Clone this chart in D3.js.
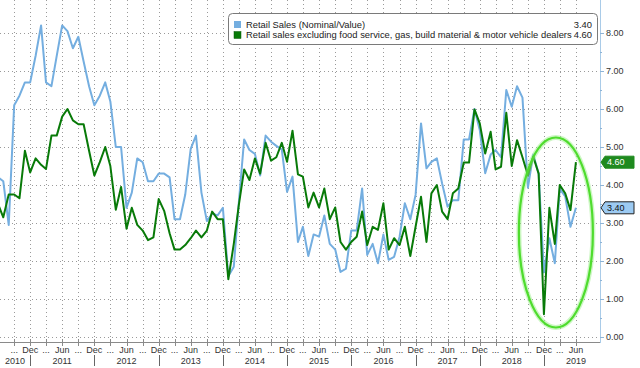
<!DOCTYPE html>
<html>
<head>
<meta charset="utf-8">
<script src="https://cdn.jsdelivr.net/npm/d3@7"></script>
<style>
body { margin: 0; background: #fff; }
svg { display: block; font-family: "Liberation Sans", Arial, sans-serif; }
</style>
</head>
<body>
<script>
// monthly YoY %, Jun 2010 .. Jun 2019
var retailSales = [4.2,4.1,2.95,6.1,6.35,6.7,6.7,7.4,8.2,6.7,
 6.6,7.4,8.2,8.05,7.6,7.9,7.25,6.6,6.1,6.35,
 6.7,6.2,5.0,5.0,3.4,3.8,4.7,4.6,4.1,4.1,
 4.3,4.3,4.2,3.1,3.1,3.75,4.95,5.3,3.8,3.05,
 3.25,3.2,3.4,1.6,1.85,3.5,5.2,4.92,4.82,4.25,
 5.3,5.14,5.03,4.94,3.82,4.22,2.5,2.9,2.13,2.7,
 2.64,3.2,2.45,2.3,1.71,1.8,2.8,2.8,3.91,2.16,
 2.45,1.94,2.7,2.03,2.11,2.64,3.52,3.1,3.74,5.62,
 4.44,4.61,4.7,4.04,3.43,3.6,3.6,5.2,5.2,6.0,
 5.45,4.31,4.8,4.92,4.73,6.5,6.06,6.6,6.3,3.93,
 4.8,4.3,1.7,2.6,1.94,3.9,3.7,2.9,3.4];

var retailControl = [3.5,3.15,3.75,3.75,3.65,4.9,4.33,4.7,4.53,4.42,
 5.3,5.3,5.8,6.0,5.7,5.6,5.6,4.9,4.25,4.6,
 5.0,4.5,3.35,3.95,2.85,3.4,2.95,2.8,2.55,2.62,
 3.63,3.32,2.73,2.3,2.3,2.42,2.6,2.8,2.62,2.8,
 3.3,3.1,3.1,1.52,2.45,3.45,4.41,4.13,4.7,4.3,
 5.11,4.64,4.73,5.11,4.61,5.43,4.28,4.22,3.41,3.8,
 3.41,3.91,3.1,3.41,2.5,2.3,2.5,2.64,3.3,2.42,
 2.9,2.82,3.52,2.3,2.6,2.42,2.9,2.13,2.9,3.69,
 2.5,3.78,4.0,3.3,3.1,3.78,3.91,4.59,4.59,5.99,
 5.62,4.83,5.4,4.41,4.48,5.9,4.5,5.18,4.73,4.25,
 4.75,4.3,0.6,3.4,2.45,4.0,3.78,3.34,4.6];

var seriesNames = ["Retail Sales (Nominal/Value)",
  "Retail sales excluding food service, gas, build material & motor vehicle dealers"];
var seriesColors = ["#74aee0", "#087a08"];
var yTicks = [0, 1, 2, 3, 4, 5, 6, 7, 8];
var years = [2010, 2011, 2012, 2013, 2014, 2015, 2016, 2017, 2018, 2019];
var monthNames = {5: "Jun", 11: "Dec"};

var width = 640, height = 368;
var plotRight = 600, axisY = 342;

var svg = d3.select("body").append("svg")
  .attr("width", width)
  .attr("height", height);

var months = d3.utcMonth.range(new Date(Date.UTC(2010, 5, 1)), new Date(Date.UTC(2019, 6, 2)));

var x = d3.scaleUtc().domain([months[0], months[months.length - 1]]).range([-2, 581.2]);
var y = d3.scaleLinear().domain([0, 8]).range([337, 33]);

svg.append("clipPath").attr("id", "plot")
  .append("rect").attr("x", 0).attr("y", 0).attr("width", plotRight).attr("height", axisY);

// quarter ticks (Mar, Jun, Sep, Dec)
var quarterTicks = months.filter(d => d.getUTCMonth() % 3 == 2 && d >= new Date(Date.UTC(2010, 8, 1)));

var grid = svg.append("g").attr("stroke", "#9a9a9a").attr("stroke-dasharray", "1,3").attr("stroke-width", 1);
grid.selectAll("line.v").data(quarterTicks).enter().append("line")
  .attr("x1", d => Math.round(x(d)) + 0.5).attr("x2", d => Math.round(x(d)) + 0.5)
  .attr("y1", 0).attr("y2", 338);
grid.selectAll("line.h").data(yTicks).enter().append("line")
  .attr("x1", 0).attr("x2", plotRight)
  .attr("y1", d => Math.round(y(d)) + 0.5).attr("y2", d => Math.round(y(d)) + 0.5);

// lines
var line = d3.line().x((d, i) => x(months[i])).y(d => y(d));
var lines = svg.append("g").attr("clip-path", "url(#plot)");
[retailSales, retailControl].forEach(function(s, i) {
  lines.append("path")
    .attr("d", line(s))
    .attr("fill", "none")
    .attr("stroke", seriesColors[i])
    .attr("stroke-width", 2)
    .attr("stroke-linejoin", "round");
});

// green highlight ellipse
var ex = x(new Date(Date.UTC(2019, 1, 7))), ey = y(2.75);
svg.append("ellipse").attr("cx", ex).attr("cy", ey).attr("rx", 37).attr("ry", y(0.25) - y(2.75))
  .attr("fill", "none").attr("stroke", "#9cf08a").attr("stroke-width", 5).attr("opacity", 0.5);
svg.append("ellipse").attr("cx", ex).attr("cy", ey).attr("rx", 37).attr("ry", y(0.25) - y(2.75))
  .attr("fill", "none").attr("stroke", "#4fdc2e").attr("stroke-width", 2.2);

// x axis
svg.append("line").attr("x1", 0).attr("x2", plotRight).attr("y1", axisY + 0.5).attr("y2", axisY + 0.5)
  .attr("stroke", "#8a8a8a");
svg.selectAll("line.xt").data(quarterTicks).enter().append("line")
  .attr("x1", d => Math.round(x(d)) + 0.5).attr("x2", d => Math.round(x(d)) + 0.5)
  .attr("y1", axisY - 3).attr("y2", axisY + 4)
  .attr("stroke", "#8a8a8a");
svg.selectAll("text.mon").data(quarterTicks).enter().append("text")
  .attr("x", d => x(d)).attr("y", 353)
  .attr("text-anchor", "middle")
  .attr("font-size", 9).attr("fill", "#333")
  .text(d => monthNames[d.getUTCMonth()] || "...");

var decs = quarterTicks.filter(d => d.getUTCMonth() == 11);
svg.selectAll("line.sep").data(decs).enter().append("line")
  .attr("x1", d => Math.round(x(d)) + 0.5).attr("x2", d => Math.round(x(d)) + 0.5)
  .attr("y1", 355).attr("y2", 366)
  .attr("stroke", "#666");
svg.selectAll("text.yr").data(years).enter().append("text")
  .attr("x", function(d) {
    var c = x(new Date(Date.UTC(d, 5, 1)));
    if (c < 10) c = x(new Date(Date.UTC(d, 11, 1))) / 2;
    return c;
  })
  .attr("y", 364)
  .attr("text-anchor", "middle")
  .attr("font-size", 9).attr("fill", "#333")
  .text(d => d);

// y axis (right)
svg.append("line").attr("x1", plotRight + 0.5).attr("x2", plotRight + 0.5).attr("y1", 0).attr("y2", axisY + 1)
  .attr("stroke", "#a9cbe8");
var halfTicks = d3.range(0, 8.5, 0.5);
svg.selectAll("line.yt").data(halfTicks).enter().append("line")
  .attr("x1", plotRight).attr("x2", d => plotRight + (d % 1 == 0 ? 4 : 2))
  .attr("y1", d => Math.round(y(d)) + 0.5).attr("y2", d => Math.round(y(d)) + 0.5)
  .attr("stroke", "#8fb4d6");
svg.selectAll("text.ytl").data(yTicks).enter().append("text")
  .attr("x", 606).attr("y", d => y(d) + 3)
  .attr("font-size", 9).attr("fill", "#333")
  .text(d => d3.format(".2f")(d));

// last value tags
var tagFills = ["#9ccaf2", "#1f8a1f"];
var tagText = ["#111", "#fff"];
var tagStroke = ["#222", "#1f8a1f"];
[retailSales, retailControl].forEach(function(s, i) {
  var v = s[s.length - 1], ty = y(v);
  var g = svg.append("g");
  g.append("path")
    .attr("d", "M" + (plotRight + 1) + "," + ty + " L" + (plotRight + 5) + "," + (ty - 6) +
      " L" + 634 + "," + (ty - 6) + " L" + 634 + "," + (ty + 6) + " L" + (plotRight + 5) + "," + (ty + 6) + " Z")
    .attr("fill", tagFills[i]).attr("stroke", tagStroke[i]).attr("stroke-width", 1);
  g.append("text").attr("x", 607).attr("y", ty + 3.2)
    .attr("font-size", 9).attr("fill", tagText[i])
    .text(d3.format(".2f")(v));
});

// legend
var legend = svg.append("g");
legend.append("rect").attr("x", 228.5).attr("y", 13.5).attr("width", 369).attr("height", 31).attr("rx", 4)
  .attr("fill", "#fff").attr("stroke", "#7a7a7a");
[retailSales, retailControl].forEach(function(s, i) {
  var ly = 24.5 + i * 10.5;
  legend.append("rect").attr("x", 234).attr("y", ly - 3.5).attr("width", 7).attr("height", 7)
    .attr("fill", seriesColors[i]).attr("stroke", i == 0 ? "none" : "#0a5a0a").attr("stroke-width", 0.5);
  legend.append("text").attr("x", 246).attr("y", ly + 3.3)
    .attr("font-size", 9.4).attr("fill", "#222")
    .text(seriesNames[i]);
  legend.append("text").attr("x", 592).attr("y", ly + 3.3)
    .attr("text-anchor", "end")
    .attr("font-size", 9.4).attr("fill", "#222")
    .text(d3.format(".2f")(s[s.length - 1]));
});
</script>
</body>
</html>
